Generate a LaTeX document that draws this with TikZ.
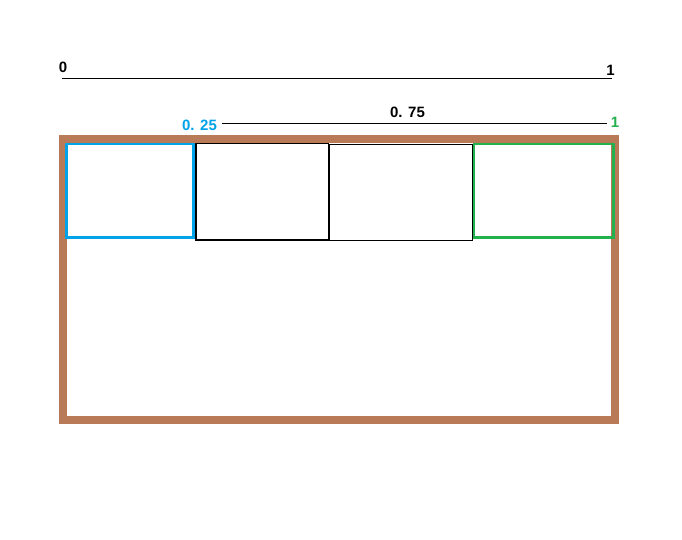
\documentclass[tikz,border=0pt]{standalone}
\usepackage{fontspec}
\setmainfont{Liberation Sans}
\definecolor{pbrown}{HTML}{B97A57}
\definecolor{pblue}{HTML}{00A2E8}
\definecolor{pgreen}{HTML}{22B14C}
\tikzset{
  lbl/.style={inner sep=0pt, font=\bfseries\fontsize{15}{15}\selectfont},
  rule/.style={line width=1pt, black},
  cell/.style={draw=black, line width=1.3pt},
}
\begin{document}
\begin{tikzpicture}[x=1pt,y=-1pt]
\useasboundingbox (0,0) rectangle (682,540);
% top scale
\node[lbl] (l0) at (63,67.5) {0};
\node[lbl] (l1) at (610.5,70) {1};
\coordinate (a0) at (62,79);
\coordinate (a1) at (612,79);
\draw[rule] (a0) -- (a1);
% second scale
\node[lbl, text=pblue] (q25) at (199.5,125.5) {0. 25};
\node[lbl] (q75) at (407.5,112.5) {0. 75};
\node[lbl, text=pgreen] (g1) at (615,122) {1};
\coordinate (b0) at (222,124);
\coordinate (b1) at (607,124);
\draw[rule] (b0) -- (b1);
% frame
\draw[pbrown, line width=8pt] (63,139.5) rectangle (615,420);
% cells
\draw[cell] (196,143.5) rectangle (328.8,240);
\draw[cell] (329.3,144.5) rectangle (472.5,240.3);
\draw[pblue, line width=2.8pt] (66.5,144) rectangle (193.6,237.6);
\draw[pgreen, line width=2.8pt] (474,144) rectangle (613.6,237.6);
\end{tikzpicture}
\end{document}
